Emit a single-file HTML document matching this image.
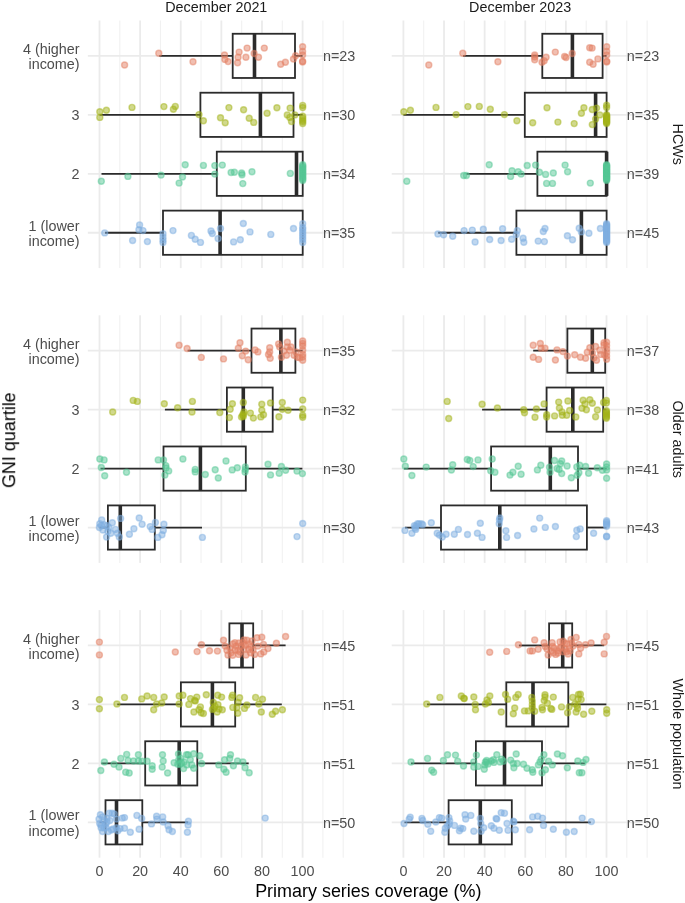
<!DOCTYPE html><html><head><meta charset="utf-8"><style>
html,body{margin:0;padding:0;background:#fff;}
svg{display:block;font-family:"Liberation Sans",sans-serif;}
</style></head><body>
<svg width="685" height="903" viewBox="0 0 685 903">
<rect width="685" height="903" fill="#fff"/>
<g><line x1="119.81" y1="20.50" x2="119.81" y2="268.10" stroke="#F1F1F1" stroke-width="1.1"/><line x1="160.43" y1="20.50" x2="160.43" y2="268.10" stroke="#F1F1F1" stroke-width="1.1"/><line x1="201.05" y1="20.50" x2="201.05" y2="268.10" stroke="#F1F1F1" stroke-width="1.1"/><line x1="241.67" y1="20.50" x2="241.67" y2="268.10" stroke="#F1F1F1" stroke-width="1.1"/><line x1="282.29" y1="20.50" x2="282.29" y2="268.10" stroke="#F1F1F1" stroke-width="1.1"/><line x1="322.91" y1="20.50" x2="322.91" y2="268.10" stroke="#F1F1F1" stroke-width="1.1"/><line x1="343.22" y1="20.50" x2="343.22" y2="268.10" stroke="#F1F1F1" stroke-width="1.1"/><line x1="99.50" y1="20.50" x2="99.50" y2="268.10" stroke="#EBEBEB" stroke-width="1.8"/><line x1="140.12" y1="20.50" x2="140.12" y2="268.10" stroke="#EBEBEB" stroke-width="1.8"/><line x1="180.74" y1="20.50" x2="180.74" y2="268.10" stroke="#EBEBEB" stroke-width="1.8"/><line x1="221.36" y1="20.50" x2="221.36" y2="268.10" stroke="#EBEBEB" stroke-width="1.8"/><line x1="261.98" y1="20.50" x2="261.98" y2="268.10" stroke="#EBEBEB" stroke-width="1.8"/><line x1="302.60" y1="20.50" x2="302.60" y2="268.10" stroke="#EBEBEB" stroke-width="1.8"/><line x1="87.82" y1="55.87" x2="344.74" y2="55.87" stroke="#EBEBEB" stroke-width="1.8"/><line x1="87.82" y1="114.82" x2="344.74" y2="114.82" stroke="#EBEBEB" stroke-width="1.8"/><line x1="87.82" y1="173.78" x2="344.74" y2="173.78" stroke="#EBEBEB" stroke-width="1.8"/><line x1="87.82" y1="232.73" x2="344.74" y2="232.73" stroke="#EBEBEB" stroke-width="1.8"/><line x1="423.71" y1="20.50" x2="423.71" y2="268.10" stroke="#F1F1F1" stroke-width="1.1"/><line x1="464.33" y1="20.50" x2="464.33" y2="268.10" stroke="#F1F1F1" stroke-width="1.1"/><line x1="504.95" y1="20.50" x2="504.95" y2="268.10" stroke="#F1F1F1" stroke-width="1.1"/><line x1="545.57" y1="20.50" x2="545.57" y2="268.10" stroke="#F1F1F1" stroke-width="1.1"/><line x1="586.19" y1="20.50" x2="586.19" y2="268.10" stroke="#F1F1F1" stroke-width="1.1"/><line x1="626.81" y1="20.50" x2="626.81" y2="268.10" stroke="#F1F1F1" stroke-width="1.1"/><line x1="647.12" y1="20.50" x2="647.12" y2="268.10" stroke="#F1F1F1" stroke-width="1.1"/><line x1="403.40" y1="20.50" x2="403.40" y2="268.10" stroke="#EBEBEB" stroke-width="1.8"/><line x1="444.02" y1="20.50" x2="444.02" y2="268.10" stroke="#EBEBEB" stroke-width="1.8"/><line x1="484.64" y1="20.50" x2="484.64" y2="268.10" stroke="#EBEBEB" stroke-width="1.8"/><line x1="525.26" y1="20.50" x2="525.26" y2="268.10" stroke="#EBEBEB" stroke-width="1.8"/><line x1="565.88" y1="20.50" x2="565.88" y2="268.10" stroke="#EBEBEB" stroke-width="1.8"/><line x1="606.50" y1="20.50" x2="606.50" y2="268.10" stroke="#EBEBEB" stroke-width="1.8"/><line x1="391.72" y1="55.87" x2="648.64" y2="55.87" stroke="#EBEBEB" stroke-width="1.8"/><line x1="391.72" y1="114.82" x2="648.64" y2="114.82" stroke="#EBEBEB" stroke-width="1.8"/><line x1="391.72" y1="173.78" x2="648.64" y2="173.78" stroke="#EBEBEB" stroke-width="1.8"/><line x1="391.72" y1="232.73" x2="648.64" y2="232.73" stroke="#EBEBEB" stroke-width="1.8"/><line x1="119.81" y1="315.30" x2="119.81" y2="562.90" stroke="#F1F1F1" stroke-width="1.1"/><line x1="160.43" y1="315.30" x2="160.43" y2="562.90" stroke="#F1F1F1" stroke-width="1.1"/><line x1="201.05" y1="315.30" x2="201.05" y2="562.90" stroke="#F1F1F1" stroke-width="1.1"/><line x1="241.67" y1="315.30" x2="241.67" y2="562.90" stroke="#F1F1F1" stroke-width="1.1"/><line x1="282.29" y1="315.30" x2="282.29" y2="562.90" stroke="#F1F1F1" stroke-width="1.1"/><line x1="322.91" y1="315.30" x2="322.91" y2="562.90" stroke="#F1F1F1" stroke-width="1.1"/><line x1="343.22" y1="315.30" x2="343.22" y2="562.90" stroke="#F1F1F1" stroke-width="1.1"/><line x1="99.50" y1="315.30" x2="99.50" y2="562.90" stroke="#EBEBEB" stroke-width="1.8"/><line x1="140.12" y1="315.30" x2="140.12" y2="562.90" stroke="#EBEBEB" stroke-width="1.8"/><line x1="180.74" y1="315.30" x2="180.74" y2="562.90" stroke="#EBEBEB" stroke-width="1.8"/><line x1="221.36" y1="315.30" x2="221.36" y2="562.90" stroke="#EBEBEB" stroke-width="1.8"/><line x1="261.98" y1="315.30" x2="261.98" y2="562.90" stroke="#EBEBEB" stroke-width="1.8"/><line x1="302.60" y1="315.30" x2="302.60" y2="562.90" stroke="#EBEBEB" stroke-width="1.8"/><line x1="87.82" y1="350.67" x2="344.74" y2="350.67" stroke="#EBEBEB" stroke-width="1.8"/><line x1="87.82" y1="409.62" x2="344.74" y2="409.62" stroke="#EBEBEB" stroke-width="1.8"/><line x1="87.82" y1="468.58" x2="344.74" y2="468.58" stroke="#EBEBEB" stroke-width="1.8"/><line x1="87.82" y1="527.53" x2="344.74" y2="527.53" stroke="#EBEBEB" stroke-width="1.8"/><line x1="423.71" y1="315.30" x2="423.71" y2="562.90" stroke="#F1F1F1" stroke-width="1.1"/><line x1="464.33" y1="315.30" x2="464.33" y2="562.90" stroke="#F1F1F1" stroke-width="1.1"/><line x1="504.95" y1="315.30" x2="504.95" y2="562.90" stroke="#F1F1F1" stroke-width="1.1"/><line x1="545.57" y1="315.30" x2="545.57" y2="562.90" stroke="#F1F1F1" stroke-width="1.1"/><line x1="586.19" y1="315.30" x2="586.19" y2="562.90" stroke="#F1F1F1" stroke-width="1.1"/><line x1="626.81" y1="315.30" x2="626.81" y2="562.90" stroke="#F1F1F1" stroke-width="1.1"/><line x1="647.12" y1="315.30" x2="647.12" y2="562.90" stroke="#F1F1F1" stroke-width="1.1"/><line x1="403.40" y1="315.30" x2="403.40" y2="562.90" stroke="#EBEBEB" stroke-width="1.8"/><line x1="444.02" y1="315.30" x2="444.02" y2="562.90" stroke="#EBEBEB" stroke-width="1.8"/><line x1="484.64" y1="315.30" x2="484.64" y2="562.90" stroke="#EBEBEB" stroke-width="1.8"/><line x1="525.26" y1="315.30" x2="525.26" y2="562.90" stroke="#EBEBEB" stroke-width="1.8"/><line x1="565.88" y1="315.30" x2="565.88" y2="562.90" stroke="#EBEBEB" stroke-width="1.8"/><line x1="606.50" y1="315.30" x2="606.50" y2="562.90" stroke="#EBEBEB" stroke-width="1.8"/><line x1="391.72" y1="350.67" x2="648.64" y2="350.67" stroke="#EBEBEB" stroke-width="1.8"/><line x1="391.72" y1="409.62" x2="648.64" y2="409.62" stroke="#EBEBEB" stroke-width="1.8"/><line x1="391.72" y1="468.58" x2="648.64" y2="468.58" stroke="#EBEBEB" stroke-width="1.8"/><line x1="391.72" y1="527.53" x2="648.64" y2="527.53" stroke="#EBEBEB" stroke-width="1.8"/><line x1="119.81" y1="610.10" x2="119.81" y2="857.70" stroke="#F1F1F1" stroke-width="1.1"/><line x1="160.43" y1="610.10" x2="160.43" y2="857.70" stroke="#F1F1F1" stroke-width="1.1"/><line x1="201.05" y1="610.10" x2="201.05" y2="857.70" stroke="#F1F1F1" stroke-width="1.1"/><line x1="241.67" y1="610.10" x2="241.67" y2="857.70" stroke="#F1F1F1" stroke-width="1.1"/><line x1="282.29" y1="610.10" x2="282.29" y2="857.70" stroke="#F1F1F1" stroke-width="1.1"/><line x1="322.91" y1="610.10" x2="322.91" y2="857.70" stroke="#F1F1F1" stroke-width="1.1"/><line x1="343.22" y1="610.10" x2="343.22" y2="857.70" stroke="#F1F1F1" stroke-width="1.1"/><line x1="99.50" y1="610.10" x2="99.50" y2="857.70" stroke="#EBEBEB" stroke-width="1.8"/><line x1="140.12" y1="610.10" x2="140.12" y2="857.70" stroke="#EBEBEB" stroke-width="1.8"/><line x1="180.74" y1="610.10" x2="180.74" y2="857.70" stroke="#EBEBEB" stroke-width="1.8"/><line x1="221.36" y1="610.10" x2="221.36" y2="857.70" stroke="#EBEBEB" stroke-width="1.8"/><line x1="261.98" y1="610.10" x2="261.98" y2="857.70" stroke="#EBEBEB" stroke-width="1.8"/><line x1="302.60" y1="610.10" x2="302.60" y2="857.70" stroke="#EBEBEB" stroke-width="1.8"/><line x1="87.82" y1="645.47" x2="344.74" y2="645.47" stroke="#EBEBEB" stroke-width="1.8"/><line x1="87.82" y1="704.42" x2="344.74" y2="704.42" stroke="#EBEBEB" stroke-width="1.8"/><line x1="87.82" y1="763.38" x2="344.74" y2="763.38" stroke="#EBEBEB" stroke-width="1.8"/><line x1="87.82" y1="822.33" x2="344.74" y2="822.33" stroke="#EBEBEB" stroke-width="1.8"/><line x1="423.71" y1="610.10" x2="423.71" y2="857.70" stroke="#F1F1F1" stroke-width="1.1"/><line x1="464.33" y1="610.10" x2="464.33" y2="857.70" stroke="#F1F1F1" stroke-width="1.1"/><line x1="504.95" y1="610.10" x2="504.95" y2="857.70" stroke="#F1F1F1" stroke-width="1.1"/><line x1="545.57" y1="610.10" x2="545.57" y2="857.70" stroke="#F1F1F1" stroke-width="1.1"/><line x1="586.19" y1="610.10" x2="586.19" y2="857.70" stroke="#F1F1F1" stroke-width="1.1"/><line x1="626.81" y1="610.10" x2="626.81" y2="857.70" stroke="#F1F1F1" stroke-width="1.1"/><line x1="647.12" y1="610.10" x2="647.12" y2="857.70" stroke="#F1F1F1" stroke-width="1.1"/><line x1="403.40" y1="610.10" x2="403.40" y2="857.70" stroke="#EBEBEB" stroke-width="1.8"/><line x1="444.02" y1="610.10" x2="444.02" y2="857.70" stroke="#EBEBEB" stroke-width="1.8"/><line x1="484.64" y1="610.10" x2="484.64" y2="857.70" stroke="#EBEBEB" stroke-width="1.8"/><line x1="525.26" y1="610.10" x2="525.26" y2="857.70" stroke="#EBEBEB" stroke-width="1.8"/><line x1="565.88" y1="610.10" x2="565.88" y2="857.70" stroke="#EBEBEB" stroke-width="1.8"/><line x1="606.50" y1="610.10" x2="606.50" y2="857.70" stroke="#EBEBEB" stroke-width="1.8"/><line x1="391.72" y1="645.47" x2="648.64" y2="645.47" stroke="#EBEBEB" stroke-width="1.8"/><line x1="391.72" y1="704.42" x2="648.64" y2="704.42" stroke="#EBEBEB" stroke-width="1.8"/><line x1="391.72" y1="763.38" x2="648.64" y2="763.38" stroke="#EBEBEB" stroke-width="1.8"/><line x1="391.72" y1="822.33" x2="648.64" y2="822.33" stroke="#EBEBEB" stroke-width="1.8"/></g>
<line x1="159.20" y1="55.87" x2="232.70" y2="55.87" stroke="#2B2B2B" stroke-width="1.8"/><line x1="295.00" y1="55.87" x2="302.60" y2="55.87" stroke="#2B2B2B" stroke-width="1.8"/><rect x="232.70" y="33.76" width="62.30" height="44.21" fill="#fff" stroke="#2B2B2B" stroke-width="1.8"/><line x1="254.50" y1="33.76" x2="254.50" y2="77.98" stroke="#2B2B2B" stroke-width="3.6"/>
<line x1="99.50" y1="114.82" x2="200.40" y2="114.82" stroke="#2B2B2B" stroke-width="1.8"/><line x1="293.50" y1="114.82" x2="302.70" y2="114.82" stroke="#2B2B2B" stroke-width="1.8"/><rect x="200.40" y="92.72" width="93.10" height="44.21" fill="#fff" stroke="#2B2B2B" stroke-width="1.8"/><line x1="260.40" y1="92.72" x2="260.40" y2="136.93" stroke="#2B2B2B" stroke-width="3.6"/>
<line x1="101.50" y1="173.78" x2="216.80" y2="173.78" stroke="#2B2B2B" stroke-width="1.8"/><rect x="216.80" y="151.67" width="85.90" height="44.21" fill="#fff" stroke="#2B2B2B" stroke-width="1.8"/><line x1="296.50" y1="151.67" x2="296.50" y2="195.88" stroke="#2B2B2B" stroke-width="3.6"/>
<line x1="105.00" y1="232.73" x2="163.00" y2="232.73" stroke="#2B2B2B" stroke-width="1.8"/><rect x="163.00" y="210.62" width="139.70" height="44.21" fill="#fff" stroke="#2B2B2B" stroke-width="1.8"/><line x1="220.10" y1="210.62" x2="220.10" y2="254.84" stroke="#2B2B2B" stroke-width="3.6"/>
<g fill="#E47F63" fill-opacity="0.5" stroke="#E47F63" stroke-opacity="0.5" stroke-width="1.4"><circle cx="124.6" cy="65.0" r="3.0"/><circle cx="158.8" cy="53.2" r="3.0"/><circle cx="193.0" cy="61.8" r="3.0"/><circle cx="224.5" cy="55.0" r="3.0"/><circle cx="224.9" cy="59.4" r="3.0"/><circle cx="228.1" cy="61.6" r="3.0"/><circle cx="239.1" cy="52.1" r="3.0"/><circle cx="238.1" cy="57.2" r="3.0"/><circle cx="237.6" cy="62.7" r="3.0"/><circle cx="247.1" cy="48.1" r="3.0"/><circle cx="245.9" cy="57.2" r="3.0"/><circle cx="254.1" cy="53.5" r="3.0"/><circle cx="258.5" cy="57.2" r="3.0"/><circle cx="264.3" cy="48.1" r="3.0"/><circle cx="280.7" cy="64.2" r="3.0"/><circle cx="285.4" cy="62.3" r="3.0"/><circle cx="293.5" cy="59.0" r="3.0"/><circle cx="295.6" cy="55.7" r="3.0"/><circle cx="302.6" cy="46.7" r="3.0"/><circle cx="302.6" cy="51.4" r="3.0"/><circle cx="302.6" cy="55.0" r="3.0"/><circle cx="302.6" cy="61.3" r="3.0"/><circle cx="302.6" cy="62.0" r="3.0"/></g>
<g fill="#A3B419" fill-opacity="0.5" stroke="#A3B419" stroke-opacity="0.5" stroke-width="1.4"><circle cx="99.8" cy="111.7" r="3.0"/><circle cx="99.8" cy="117.4" r="3.0"/><circle cx="106.4" cy="110.2" r="3.0"/><circle cx="132.0" cy="107.4" r="3.0"/><circle cx="163.9" cy="106.6" r="3.0"/><circle cx="175.3" cy="106.4" r="3.0"/><circle cx="173.4" cy="109.3" r="3.0"/><circle cx="199.0" cy="114.6" r="3.0"/><circle cx="203.4" cy="120.8" r="3.0"/><circle cx="220.5" cy="117.7" r="3.0"/><circle cx="225.2" cy="122.7" r="3.0"/><circle cx="228.9" cy="107.6" r="3.0"/><circle cx="243.6" cy="109.8" r="3.0"/><circle cx="249.2" cy="118.2" r="3.0"/><circle cx="253.7" cy="122.4" r="3.0"/><circle cx="267.1" cy="113.2" r="3.0"/><circle cx="276.9" cy="107.8" r="3.0"/><circle cx="290.1" cy="108.1" r="3.0"/><circle cx="287.3" cy="114.9" r="3.0"/><circle cx="289.8" cy="117.4" r="3.0"/><circle cx="291.5" cy="121.6" r="3.0"/><circle cx="294.8" cy="114.9" r="3.0"/><circle cx="302.7" cy="105.4" r="3.0"/><circle cx="302.7" cy="107.6" r="3.0"/><circle cx="302.7" cy="116.3" r="3.0"/><circle cx="302.7" cy="118.2" r="3.0"/><circle cx="302.7" cy="120.3" r="3.0"/><circle cx="302.7" cy="121.8" r="3.0"/><circle cx="302.7" cy="123.6" r="3.0"/></g>
<g fill="#55C795" fill-opacity="0.5" stroke="#55C795" stroke-opacity="0.5" stroke-width="1.4"><circle cx="101.3" cy="181.2" r="3.0"/><circle cx="127.9" cy="176.4" r="3.0"/><circle cx="161.1" cy="175.1" r="3.0"/><circle cx="185.2" cy="164.7" r="3.0"/><circle cx="182.5" cy="177.0" r="3.0"/><circle cx="179.1" cy="183.1" r="3.0"/><circle cx="203.4" cy="165.4" r="3.0"/><circle cx="214.8" cy="165.6" r="3.0"/><circle cx="214.8" cy="174.1" r="3.0"/><circle cx="222.3" cy="165.1" r="3.0"/><circle cx="231.1" cy="172.5" r="3.0"/><circle cx="234.4" cy="172.2" r="3.0"/><circle cx="241.6" cy="173.0" r="3.0"/><circle cx="242.0" cy="174.7" r="3.0"/><circle cx="242.8" cy="183.6" r="3.0"/><circle cx="252.0" cy="171.8" r="3.0"/><circle cx="290.3" cy="173.4" r="3.0"/><circle cx="302.7" cy="164.7" r="3.0"/><circle cx="302.7" cy="165.9" r="3.0"/><circle cx="302.7" cy="167.1" r="3.0"/><circle cx="302.7" cy="168.3" r="3.0"/><circle cx="302.7" cy="169.6" r="3.0"/><circle cx="302.7" cy="170.8" r="3.0"/><circle cx="302.7" cy="172.0" r="3.0"/><circle cx="302.7" cy="173.2" r="3.0"/><circle cx="302.7" cy="174.4" r="3.0"/><circle cx="302.7" cy="175.6" r="3.0"/><circle cx="302.7" cy="176.9" r="3.0"/><circle cx="302.7" cy="178.1" r="3.0"/><circle cx="302.7" cy="179.3" r="3.0"/><circle cx="302.7" cy="180.5" r="3.0"/></g>
<g fill="#7FB0E2" fill-opacity="0.5" stroke="#7FB0E2" stroke-opacity="0.5" stroke-width="1.4"><circle cx="104.7" cy="232.9" r="3.0"/><circle cx="139.6" cy="224.9" r="3.0"/><circle cx="138.9" cy="229.7" r="3.0"/><circle cx="143.0" cy="230.6" r="3.0"/><circle cx="132.6" cy="240.5" r="3.0"/><circle cx="147.4" cy="241.6" r="3.0"/><circle cx="163.0" cy="233.8" r="3.0"/><circle cx="163.0" cy="237.3" r="3.0"/><circle cx="163.0" cy="240.1" r="3.0"/><circle cx="163.0" cy="242.6" r="3.0"/><circle cx="173.0" cy="230.6" r="3.0"/><circle cx="191.4" cy="235.4" r="3.0"/><circle cx="195.2" cy="239.2" r="3.0"/><circle cx="200.5" cy="242.4" r="3.0"/><circle cx="211.0" cy="231.0" r="3.0"/><circle cx="212.3" cy="233.5" r="3.0"/><circle cx="218.1" cy="238.6" r="3.0"/><circle cx="220.5" cy="228.5" r="3.0"/><circle cx="233.6" cy="241.9" r="3.0"/><circle cx="240.3" cy="239.7" r="3.0"/><circle cx="243.3" cy="223.5" r="3.0"/><circle cx="250.0" cy="231.9" r="3.0"/><circle cx="270.8" cy="234.4" r="3.0"/><circle cx="293.5" cy="228.5" r="3.0"/><circle cx="302.7" cy="223.7" r="3.0"/><circle cx="302.7" cy="227.5" r="3.0"/><circle cx="302.7" cy="229.5" r="3.0"/><circle cx="302.7" cy="232.0" r="3.0"/><circle cx="302.7" cy="234.5" r="3.0"/><circle cx="302.7" cy="237.0" r="3.0"/><circle cx="302.7" cy="239.5" r="3.0"/><circle cx="302.7" cy="242.5" r="3.0"/></g>
<line x1="463.00" y1="55.87" x2="542.30" y2="55.87" stroke="#2B2B2B" stroke-width="1.8"/><line x1="602.60" y1="55.87" x2="606.60" y2="55.87" stroke="#2B2B2B" stroke-width="1.8"/><rect x="542.30" y="33.76" width="60.30" height="44.21" fill="#fff" stroke="#2B2B2B" stroke-width="1.8"/><line x1="572.40" y1="33.76" x2="572.40" y2="77.98" stroke="#2B2B2B" stroke-width="3.6"/>
<line x1="403.40" y1="114.82" x2="524.80" y2="114.82" stroke="#2B2B2B" stroke-width="1.8"/><rect x="524.80" y="92.72" width="81.80" height="44.21" fill="#fff" stroke="#2B2B2B" stroke-width="1.8"/><line x1="595.60" y1="92.72" x2="595.60" y2="136.93" stroke="#2B2B2B" stroke-width="3.6"/>
<line x1="466.40" y1="173.78" x2="537.40" y2="173.78" stroke="#2B2B2B" stroke-width="1.8"/><rect x="537.40" y="151.67" width="69.20" height="44.21" fill="#fff" stroke="#2B2B2B" stroke-width="1.8"/><line x1="606.60" y1="151.67" x2="606.60" y2="195.88" stroke="#2B2B2B" stroke-width="3.6"/>
<line x1="438.20" y1="232.73" x2="516.40" y2="232.73" stroke="#2B2B2B" stroke-width="1.8"/><rect x="516.40" y="210.62" width="90.20" height="44.21" fill="#fff" stroke="#2B2B2B" stroke-width="1.8"/><line x1="581.40" y1="210.62" x2="581.40" y2="254.84" stroke="#2B2B2B" stroke-width="3.6"/>
<g fill="#E47F63" fill-opacity="0.5" stroke="#E47F63" stroke-opacity="0.5" stroke-width="1.4"><circle cx="428.8" cy="65.0" r="3.0"/><circle cx="462.8" cy="53.2" r="3.0"/><circle cx="497.9" cy="61.8" r="3.0"/><circle cx="534.7" cy="55.0" r="3.0"/><circle cx="534.7" cy="59.8" r="3.0"/><circle cx="542.0" cy="62.3" r="3.0"/><circle cx="544.2" cy="60.8" r="3.0"/><circle cx="546.1" cy="57.2" r="3.0"/><circle cx="555.3" cy="52.1" r="3.0"/><circle cx="564.6" cy="56.5" r="3.0"/><circle cx="566.1" cy="57.5" r="3.0"/><circle cx="572.2" cy="53.5" r="3.0"/><circle cx="589.7" cy="47.7" r="3.0"/><circle cx="592.1" cy="48.1" r="3.0"/><circle cx="589.7" cy="62.3" r="3.0"/><circle cx="593.1" cy="64.2" r="3.0"/><circle cx="597.9" cy="58.9" r="3.0"/><circle cx="606.7" cy="46.7" r="3.0"/><circle cx="606.7" cy="51.4" r="3.0"/><circle cx="606.7" cy="55.0" r="3.0"/><circle cx="606.7" cy="61.3" r="3.0"/><circle cx="606.7" cy="62.0" r="3.0"/><circle cx="534.7" cy="57.0" r="3.0"/></g>
<g fill="#A3B419" fill-opacity="0.5" stroke="#A3B419" stroke-opacity="0.5" stroke-width="1.4"><circle cx="403.8" cy="111.7" r="3.0"/><circle cx="410.4" cy="110.2" r="3.0"/><circle cx="436.0" cy="107.4" r="3.0"/><circle cx="456.1" cy="114.6" r="3.0"/><circle cx="467.9" cy="106.6" r="3.0"/><circle cx="479.3" cy="106.4" r="3.0"/><circle cx="490.3" cy="109.3" r="3.0"/><circle cx="504.4" cy="114.6" r="3.0"/><circle cx="516.9" cy="120.8" r="3.0"/><circle cx="532.7" cy="122.7" r="3.0"/><circle cx="547.0" cy="107.8" r="3.0"/><circle cx="557.9" cy="122.1" r="3.0"/><circle cx="574.2" cy="123.6" r="3.0"/><circle cx="583.9" cy="107.8" r="3.0"/><circle cx="581.4" cy="113.2" r="3.0"/><circle cx="592.3" cy="109.5" r="3.0"/><circle cx="596.5" cy="108.1" r="3.0"/><circle cx="595.6" cy="119.1" r="3.0"/><circle cx="592.3" cy="124.6" r="3.0"/><circle cx="599.8" cy="114.9" r="3.0"/><circle cx="606.6" cy="105.2" r="3.0"/><circle cx="606.6" cy="107.5" r="3.0"/><circle cx="606.6" cy="114.8" r="3.0"/><circle cx="606.6" cy="115.7" r="3.0"/><circle cx="606.6" cy="116.5" r="3.0"/><circle cx="606.6" cy="117.4" r="3.0"/><circle cx="606.6" cy="118.3" r="3.0"/><circle cx="606.6" cy="119.2" r="3.0"/><circle cx="606.6" cy="120.0" r="3.0"/><circle cx="606.6" cy="120.9" r="3.0"/><circle cx="606.6" cy="121.8" r="3.0"/><circle cx="606.6" cy="122.6" r="3.0"/><circle cx="606.6" cy="123.5" r="3.0"/></g>
<g fill="#55C795" fill-opacity="0.5" stroke="#55C795" stroke-opacity="0.5" stroke-width="1.4"><circle cx="406.8" cy="181.2" r="3.0"/><circle cx="463.7" cy="175.5" r="3.0"/><circle cx="466.4" cy="175.5" r="3.0"/><circle cx="489.2" cy="164.7" r="3.0"/><circle cx="512.0" cy="170.7" r="3.0"/><circle cx="510.6" cy="176.4" r="3.0"/><circle cx="518.2" cy="171.7" r="3.0"/><circle cx="521.1" cy="174.1" r="3.0"/><circle cx="527.2" cy="165.5" r="3.0"/><circle cx="535.6" cy="165.1" r="3.0"/><circle cx="539.4" cy="172.2" r="3.0"/><circle cx="545.6" cy="174.4" r="3.0"/><circle cx="553.3" cy="173.0" r="3.0"/><circle cx="546.6" cy="183.4" r="3.0"/><circle cx="552.5" cy="183.4" r="3.0"/><circle cx="565.1" cy="165.1" r="3.0"/><circle cx="567.6" cy="171.7" r="3.0"/><circle cx="590.3" cy="183.1" r="3.0"/><circle cx="606.6" cy="164.7" r="3.0"/><circle cx="606.6" cy="165.5" r="3.0"/><circle cx="606.6" cy="166.3" r="3.0"/><circle cx="606.6" cy="167.1" r="3.0"/><circle cx="606.6" cy="167.8" r="3.0"/><circle cx="606.6" cy="168.6" r="3.0"/><circle cx="606.6" cy="169.4" r="3.0"/><circle cx="606.6" cy="170.2" r="3.0"/><circle cx="606.6" cy="171.0" r="3.0"/><circle cx="606.6" cy="171.8" r="3.0"/><circle cx="606.6" cy="172.6" r="3.0"/><circle cx="606.6" cy="173.3" r="3.0"/><circle cx="606.6" cy="174.1" r="3.0"/><circle cx="606.6" cy="174.9" r="3.0"/><circle cx="606.6" cy="175.7" r="3.0"/><circle cx="606.6" cy="176.5" r="3.0"/><circle cx="606.6" cy="177.3" r="3.0"/><circle cx="606.6" cy="178.0" r="3.0"/><circle cx="606.6" cy="178.8" r="3.0"/><circle cx="606.6" cy="179.6" r="3.0"/><circle cx="606.6" cy="180.4" r="3.0"/></g>
<g fill="#7FB0E2" fill-opacity="0.5" stroke="#7FB0E2" stroke-opacity="0.5" stroke-width="1.4"><circle cx="437.9" cy="234.0" r="3.0"/><circle cx="443.6" cy="234.8" r="3.0"/><circle cx="452.7" cy="236.3" r="3.0"/><circle cx="464.1" cy="230.6" r="3.0"/><circle cx="472.3" cy="230.1" r="3.0"/><circle cx="475.1" cy="242.0" r="3.0"/><circle cx="483.3" cy="229.3" r="3.0"/><circle cx="489.7" cy="239.5" r="3.0"/><circle cx="501.1" cy="240.5" r="3.0"/><circle cx="502.6" cy="228.7" r="3.0"/><circle cx="511.6" cy="239.2" r="3.0"/><circle cx="517.3" cy="230.6" r="3.0"/><circle cx="516.3" cy="234.4" r="3.0"/><circle cx="523.1" cy="238.2" r="3.0"/><circle cx="523.8" cy="242.3" r="3.0"/><circle cx="538.2" cy="241.1" r="3.0"/><circle cx="544.4" cy="241.6" r="3.0"/><circle cx="543.3" cy="231.5" r="3.0"/><circle cx="545.0" cy="228.5" r="3.0"/><circle cx="567.4" cy="235.7" r="3.0"/><circle cx="572.5" cy="239.7" r="3.0"/><circle cx="579.2" cy="228.2" r="3.0"/><circle cx="581.4" cy="231.9" r="3.0"/><circle cx="588.9" cy="233.2" r="3.0"/><circle cx="600.4" cy="228.5" r="3.0"/><circle cx="606.6" cy="223.8" r="3.0"/><circle cx="606.6" cy="224.8" r="3.0"/><circle cx="606.6" cy="225.8" r="3.0"/><circle cx="606.6" cy="226.7" r="3.0"/><circle cx="606.6" cy="227.7" r="3.0"/><circle cx="606.6" cy="228.7" r="3.0"/><circle cx="606.6" cy="229.7" r="3.0"/><circle cx="606.6" cy="230.7" r="3.0"/><circle cx="606.6" cy="231.6" r="3.0"/><circle cx="606.6" cy="232.6" r="3.0"/><circle cx="606.6" cy="233.6" r="3.0"/><circle cx="606.6" cy="234.6" r="3.0"/><circle cx="606.6" cy="235.5" r="3.0"/><circle cx="606.6" cy="236.5" r="3.0"/><circle cx="606.6" cy="237.5" r="3.0"/><circle cx="606.6" cy="238.5" r="3.0"/><circle cx="606.6" cy="239.5" r="3.0"/><circle cx="606.6" cy="240.4" r="3.0"/><circle cx="606.6" cy="241.4" r="3.0"/><circle cx="606.6" cy="242.4" r="3.0"/></g>
<line x1="187.60" y1="350.67" x2="251.50" y2="350.67" stroke="#2B2B2B" stroke-width="1.8"/><line x1="295.40" y1="350.67" x2="302.70" y2="350.67" stroke="#2B2B2B" stroke-width="1.8"/><rect x="251.50" y="328.56" width="43.90" height="44.21" fill="#fff" stroke="#2B2B2B" stroke-width="1.8"/><line x1="280.90" y1="328.56" x2="280.90" y2="372.78" stroke="#2B2B2B" stroke-width="3.6"/>
<line x1="164.90" y1="409.62" x2="226.90" y2="409.62" stroke="#2B2B2B" stroke-width="1.8"/><line x1="272.70" y1="409.62" x2="302.70" y2="409.62" stroke="#2B2B2B" stroke-width="1.8"/><rect x="226.90" y="387.52" width="45.80" height="44.21" fill="#fff" stroke="#2B2B2B" stroke-width="1.8"/><line x1="243.30" y1="387.52" x2="243.30" y2="431.73" stroke="#2B2B2B" stroke-width="3.6"/>
<line x1="100.50" y1="468.58" x2="163.50" y2="468.58" stroke="#2B2B2B" stroke-width="1.8"/><line x1="245.80" y1="468.58" x2="302.40" y2="468.58" stroke="#2B2B2B" stroke-width="1.8"/><rect x="163.50" y="446.47" width="82.30" height="44.21" fill="#fff" stroke="#2B2B2B" stroke-width="1.8"/><line x1="200.40" y1="446.47" x2="200.40" y2="490.68" stroke="#2B2B2B" stroke-width="3.6"/>
<line x1="99.50" y1="527.53" x2="107.90" y2="527.53" stroke="#2B2B2B" stroke-width="1.8"/><line x1="154.80" y1="527.53" x2="202.00" y2="527.53" stroke="#2B2B2B" stroke-width="1.8"/><rect x="107.90" y="505.42" width="46.90" height="44.21" fill="#fff" stroke="#2B2B2B" stroke-width="1.8"/><line x1="120.30" y1="505.42" x2="120.30" y2="549.64" stroke="#2B2B2B" stroke-width="3.6"/>
<g fill="#E47F63" fill-opacity="0.5" stroke="#E47F63" stroke-opacity="0.5" stroke-width="1.4"><circle cx="179.1" cy="345.2" r="3.0"/><circle cx="187.1" cy="348.5" r="3.0"/><circle cx="201.3" cy="357.4" r="3.0"/><circle cx="223.5" cy="358.9" r="3.0"/><circle cx="240.0" cy="342.7" r="3.0"/><circle cx="238.3" cy="348.2" r="3.0"/><circle cx="245.7" cy="351.1" r="3.0"/><circle cx="242.3" cy="355.8" r="3.0"/><circle cx="248.2" cy="359.8" r="3.0"/><circle cx="255.1" cy="349.9" r="3.0"/><circle cx="257.9" cy="351.9" r="3.0"/><circle cx="269.7" cy="347.7" r="3.0"/><circle cx="269.7" cy="351.9" r="3.0"/><circle cx="268.5" cy="354.4" r="3.0"/><circle cx="270.2" cy="358.3" r="3.0"/><circle cx="278.6" cy="344.0" r="3.0"/><circle cx="279.7" cy="346.9" r="3.0"/><circle cx="287.3" cy="342.3" r="3.0"/><circle cx="287.3" cy="346.9" r="3.0"/><circle cx="283.9" cy="351.1" r="3.0"/><circle cx="289.8" cy="350.2" r="3.0"/><circle cx="281.4" cy="357.3" r="3.0"/><circle cx="286.5" cy="355.3" r="3.0"/><circle cx="294.0" cy="355.3" r="3.0"/><circle cx="297.4" cy="357.3" r="3.0"/><circle cx="302.7" cy="341.0" r="3.0"/><circle cx="302.7" cy="346.0" r="3.0"/><circle cx="302.7" cy="350.2" r="3.0"/><circle cx="302.7" cy="354.4" r="3.0"/><circle cx="302.7" cy="360.3" r="3.0"/><circle cx="299.9" cy="357.8" r="3.0"/><circle cx="302.7" cy="343.5" r="3.0"/><circle cx="302.7" cy="357.0" r="3.0"/><circle cx="291.0" cy="347.0" r="3.0"/><circle cx="296.0" cy="352.0" r="3.0"/></g>
<g fill="#A3B419" fill-opacity="0.5" stroke="#A3B419" stroke-opacity="0.5" stroke-width="1.4"><circle cx="112.7" cy="412.0" r="3.0"/><circle cx="133.2" cy="400.4" r="3.0"/><circle cx="137.3" cy="401.4" r="3.0"/><circle cx="164.3" cy="403.8" r="3.0"/><circle cx="177.6" cy="407.8" r="3.0"/><circle cx="192.4" cy="401.4" r="3.0"/><circle cx="192.0" cy="412.0" r="3.0"/><circle cx="219.8" cy="412.6" r="3.0"/><circle cx="232.4" cy="403.8" r="3.0"/><circle cx="230.2" cy="409.2" r="3.0"/><circle cx="229.4" cy="417.6" r="3.0"/><circle cx="243.3" cy="402.5" r="3.0"/><circle cx="242.8" cy="415.2" r="3.0"/><circle cx="243.3" cy="416.4" r="3.0"/><circle cx="250.4" cy="413.1" r="3.0"/><circle cx="253.4" cy="418.1" r="3.0"/><circle cx="261.8" cy="404.2" r="3.0"/><circle cx="261.8" cy="410.2" r="3.0"/><circle cx="260.8" cy="416.9" r="3.0"/><circle cx="263.5" cy="414.7" r="3.0"/><circle cx="270.5" cy="403.0" r="3.0"/><circle cx="282.3" cy="402.5" r="3.0"/><circle cx="282.3" cy="409.2" r="3.0"/><circle cx="288.1" cy="410.2" r="3.0"/><circle cx="278.9" cy="416.7" r="3.0"/><circle cx="302.7" cy="400.1" r="3.0"/><circle cx="302.7" cy="408.9" r="3.0"/><circle cx="302.7" cy="415.2" r="3.0"/><circle cx="302.7" cy="417.3" r="3.0"/><circle cx="243.3" cy="414.0" r="3.0"/><circle cx="241.5" cy="417.0" r="3.0"/><circle cx="244.0" cy="412.0" r="3.0"/></g>
<g fill="#55C795" fill-opacity="0.5" stroke="#55C795" stroke-opacity="0.5" stroke-width="1.4"><circle cx="99.8" cy="459.0" r="3.0"/><circle cx="104.1" cy="459.9" r="3.0"/><circle cx="101.3" cy="467.5" r="3.0"/><circle cx="104.7" cy="475.7" r="3.0"/><circle cx="126.5" cy="472.3" r="3.0"/><circle cx="158.2" cy="459.9" r="3.0"/><circle cx="163.5" cy="459.9" r="3.0"/><circle cx="165.8" cy="465.6" r="3.0"/><circle cx="168.7" cy="470.9" r="3.0"/><circle cx="164.9" cy="475.1" r="3.0"/><circle cx="182.9" cy="459.0" r="3.0"/><circle cx="195.2" cy="469.4" r="3.0"/><circle cx="195.2" cy="471.9" r="3.0"/><circle cx="205.3" cy="474.5" r="3.0"/><circle cx="215.2" cy="469.8" r="3.0"/><circle cx="218.3" cy="478.0" r="3.0"/><circle cx="226.0" cy="461.0" r="3.0"/><circle cx="232.2" cy="469.9" r="3.0"/><circle cx="237.3" cy="467.7" r="3.0"/><circle cx="245.3" cy="466.9" r="3.0"/><circle cx="245.3" cy="469.4" r="3.0"/><circle cx="268.0" cy="464.3" r="3.0"/><circle cx="270.5" cy="474.9" r="3.0"/><circle cx="281.4" cy="466.5" r="3.0"/><circle cx="279.2" cy="473.2" r="3.0"/><circle cx="285.6" cy="470.2" r="3.0"/><circle cx="297.0" cy="471.1" r="3.0"/><circle cx="302.4" cy="473.6" r="3.0"/><circle cx="166.0" cy="468.0" r="3.0"/><circle cx="245.0" cy="472.0" r="3.0"/></g>
<g fill="#7FB0E2" fill-opacity="0.5" stroke="#7FB0E2" stroke-opacity="0.5" stroke-width="1.4"><circle cx="101.7" cy="519.9" r="3.0"/><circle cx="99.8" cy="523.7" r="3.0"/><circle cx="99.4" cy="527.5" r="3.0"/><circle cx="101.3" cy="525.6" r="3.0"/><circle cx="104.1" cy="524.7" r="3.0"/><circle cx="107.0" cy="525.6" r="3.0"/><circle cx="108.9" cy="527.5" r="3.0"/><circle cx="112.3" cy="522.8" r="3.0"/><circle cx="107.9" cy="531.3" r="3.0"/><circle cx="110.8" cy="533.2" r="3.0"/><circle cx="106.6" cy="537.0" r="3.0"/><circle cx="115.5" cy="529.4" r="3.0"/><circle cx="117.4" cy="533.2" r="3.0"/><circle cx="119.3" cy="537.0" r="3.0"/><circle cx="120.6" cy="518.4" r="3.0"/><circle cx="129.4" cy="534.2" r="3.0"/><circle cx="133.9" cy="528.8" r="3.0"/><circle cx="139.2" cy="518.0" r="3.0"/><circle cx="142.1" cy="524.3" r="3.0"/><circle cx="150.2" cy="526.6" r="3.0"/><circle cx="152.1" cy="529.4" r="3.0"/><circle cx="155.4" cy="522.4" r="3.0"/><circle cx="163.9" cy="524.3" r="3.0"/><circle cx="163.3" cy="530.4" r="3.0"/><circle cx="162.0" cy="534.7" r="3.0"/><circle cx="157.8" cy="537.4" r="3.0"/><circle cx="202.4" cy="537.4" r="3.0"/><circle cx="302.7" cy="523.5" r="3.0"/><circle cx="297.0" cy="536.6" r="3.0"/><circle cx="103.0" cy="530.0" r="3.0"/></g>
<line x1="533.20" y1="350.67" x2="567.40" y2="350.67" stroke="#2B2B2B" stroke-width="1.8"/><line x1="605.20" y1="350.67" x2="606.60" y2="350.67" stroke="#2B2B2B" stroke-width="1.8"/><rect x="567.40" y="328.56" width="37.80" height="44.21" fill="#fff" stroke="#2B2B2B" stroke-width="1.8"/><line x1="592.30" y1="328.56" x2="592.30" y2="372.78" stroke="#2B2B2B" stroke-width="3.6"/>
<line x1="482.10" y1="409.62" x2="546.60" y2="409.62" stroke="#2B2B2B" stroke-width="1.8"/><line x1="603.20" y1="409.62" x2="606.40" y2="409.62" stroke="#2B2B2B" stroke-width="1.8"/><rect x="546.60" y="387.52" width="56.60" height="44.21" fill="#fff" stroke="#2B2B2B" stroke-width="1.8"/><line x1="572.80" y1="387.52" x2="572.80" y2="431.73" stroke="#2B2B2B" stroke-width="3.6"/>
<line x1="404.00" y1="468.58" x2="491.10" y2="468.58" stroke="#2B2B2B" stroke-width="1.8"/><line x1="578.00" y1="468.58" x2="606.60" y2="468.58" stroke="#2B2B2B" stroke-width="1.8"/><rect x="491.10" y="446.47" width="86.90" height="44.21" fill="#fff" stroke="#2B2B2B" stroke-width="1.8"/><line x1="550.30" y1="446.47" x2="550.30" y2="490.68" stroke="#2B2B2B" stroke-width="3.6"/>
<line x1="405.00" y1="527.53" x2="441.00" y2="527.53" stroke="#2B2B2B" stroke-width="1.8"/><line x1="586.90" y1="527.53" x2="606.60" y2="527.53" stroke="#2B2B2B" stroke-width="1.8"/><rect x="441.00" y="505.42" width="145.90" height="44.21" fill="#fff" stroke="#2B2B2B" stroke-width="1.8"/><line x1="499.80" y1="505.42" x2="499.80" y2="549.64" stroke="#2B2B2B" stroke-width="3.6"/>
<g fill="#E47F63" fill-opacity="0.5" stroke="#E47F63" stroke-opacity="0.5" stroke-width="1.4"><circle cx="533.2" cy="345.2" r="3.0"/><circle cx="533.2" cy="357.3" r="3.0"/><circle cx="540.3" cy="343.5" r="3.0"/><circle cx="541.1" cy="348.2" r="3.0"/><circle cx="545.0" cy="348.2" r="3.0"/><circle cx="538.6" cy="359.4" r="3.0"/><circle cx="557.0" cy="349.9" r="3.0"/><circle cx="562.9" cy="351.6" r="3.0"/><circle cx="555.4" cy="360.0" r="3.0"/><circle cx="567.4" cy="356.1" r="3.0"/><circle cx="574.7" cy="354.7" r="3.0"/><circle cx="580.5" cy="357.3" r="3.0"/><circle cx="585.6" cy="358.3" r="3.0"/><circle cx="587.3" cy="352.2" r="3.0"/><circle cx="589.8" cy="347.7" r="3.0"/><circle cx="595.6" cy="346.5" r="3.0"/><circle cx="594.0" cy="357.8" r="3.0"/><circle cx="596.5" cy="360.3" r="3.0"/><circle cx="592.3" cy="352.7" r="3.0"/><circle cx="599.8" cy="350.2" r="3.0"/><circle cx="600.7" cy="354.4" r="3.0"/><circle cx="604.0" cy="342.7" r="3.0"/><circle cx="606.6" cy="342.2" r="3.0"/><circle cx="606.6" cy="345.6" r="3.0"/><circle cx="606.6" cy="349.0" r="3.0"/><circle cx="606.6" cy="352.5" r="3.0"/><circle cx="606.6" cy="355.9" r="3.0"/><circle cx="606.6" cy="359.3" r="3.0"/><circle cx="604.0" cy="345.0" r="3.0"/><circle cx="604.5" cy="355.0" r="3.0"/></g>
<g fill="#A3B419" fill-opacity="0.5" stroke="#A3B419" stroke-opacity="0.5" stroke-width="1.4"><circle cx="447.2" cy="401.4" r="3.0"/><circle cx="448.7" cy="418.5" r="3.0"/><circle cx="482.1" cy="404.2" r="3.0"/><circle cx="497.4" cy="408.0" r="3.0"/><circle cx="523.7" cy="409.7" r="3.0"/><circle cx="524.5" cy="412.7" r="3.0"/><circle cx="536.4" cy="409.0" r="3.0"/><circle cx="535.0" cy="417.3" r="3.0"/><circle cx="544.1" cy="403.9" r="3.0"/><circle cx="546.7" cy="414.8" r="3.0"/><circle cx="546.6" cy="417.0" r="3.0"/><circle cx="554.6" cy="415.9" r="3.0"/><circle cx="558.7" cy="402.1" r="3.0"/><circle cx="559.4" cy="408.0" r="3.0"/><circle cx="562.0" cy="411.9" r="3.0"/><circle cx="562.3" cy="415.3" r="3.0"/><circle cx="567.9" cy="401.0" r="3.0"/><circle cx="569.6" cy="410.5" r="3.0"/><circle cx="566.7" cy="415.3" r="3.0"/><circle cx="575.8" cy="417.0" r="3.0"/><circle cx="583.1" cy="400.2" r="3.0"/><circle cx="585.0" cy="403.9" r="3.0"/><circle cx="582.0" cy="408.3" r="3.0"/><circle cx="586.4" cy="409.7" r="3.0"/><circle cx="589.8" cy="399.8" r="3.0"/><circle cx="592.3" cy="403.2" r="3.0"/><circle cx="597.4" cy="410.0" r="3.0"/><circle cx="595.6" cy="416.7" r="3.0"/><circle cx="606.4" cy="400.5" r="3.0"/><circle cx="603.6" cy="402.5" r="3.0"/><circle cx="606.4" cy="403.0" r="3.0"/><circle cx="606.4" cy="410.8" r="3.0"/><circle cx="606.4" cy="412.1" r="3.0"/><circle cx="606.4" cy="413.3" r="3.0"/><circle cx="606.4" cy="414.6" r="3.0"/><circle cx="606.4" cy="415.8" r="3.0"/><circle cx="606.4" cy="417.1" r="3.0"/><circle cx="606.4" cy="418.3" r="3.0"/></g>
<g fill="#55C795" fill-opacity="0.5" stroke="#55C795" stroke-opacity="0.5" stroke-width="1.4"><circle cx="403.8" cy="459.0" r="3.0"/><circle cx="405.3" cy="466.2" r="3.0"/><circle cx="411.9" cy="475.5" r="3.0"/><circle cx="426.2" cy="467.1" r="3.0"/><circle cx="452.7" cy="464.7" r="3.0"/><circle cx="451.4" cy="470.0" r="3.0"/><circle cx="467.3" cy="459.5" r="3.0"/><circle cx="469.8" cy="460.5" r="3.0"/><circle cx="478.0" cy="459.9" r="3.0"/><circle cx="473.2" cy="466.6" r="3.0"/><circle cx="492.2" cy="459.0" r="3.0"/><circle cx="490.7" cy="470.7" r="3.0"/><circle cx="494.9" cy="472.3" r="3.0"/><circle cx="510.0" cy="475.1" r="3.0"/><circle cx="512.9" cy="472.3" r="3.0"/><circle cx="518.2" cy="466.2" r="3.0"/><circle cx="521.1" cy="474.2" r="3.0"/><circle cx="537.4" cy="469.9" r="3.0"/><circle cx="540.8" cy="465.2" r="3.0"/><circle cx="549.5" cy="467.2" r="3.0"/><circle cx="550.0" cy="472.2" r="3.0"/><circle cx="554.5" cy="460.5" r="3.0"/><circle cx="561.7" cy="461.0" r="3.0"/><circle cx="560.4" cy="463.8" r="3.0"/><circle cx="557.0" cy="468.5" r="3.0"/><circle cx="559.1" cy="469.4" r="3.0"/><circle cx="561.7" cy="473.6" r="3.0"/><circle cx="567.1" cy="466.0" r="3.0"/><circle cx="571.3" cy="477.8" r="3.0"/><circle cx="576.8" cy="466.9" r="3.0"/><circle cx="579.7" cy="465.2" r="3.0"/><circle cx="578.9" cy="472.7" r="3.0"/><circle cx="577.2" cy="475.3" r="3.0"/><circle cx="585.6" cy="466.5" r="3.0"/><circle cx="588.6" cy="473.2" r="3.0"/><circle cx="597.3" cy="467.7" r="3.0"/><circle cx="602.4" cy="470.2" r="3.0"/><circle cx="606.6" cy="464.0" r="3.0"/><circle cx="606.6" cy="469.9" r="3.0"/><circle cx="606.6" cy="478.3" r="3.0"/><circle cx="606.6" cy="467.0" r="3.0"/></g>
<g fill="#7FB0E2" fill-opacity="0.5" stroke="#7FB0E2" stroke-opacity="0.5" stroke-width="1.4"><circle cx="404.9" cy="530.4" r="3.0"/><circle cx="411.9" cy="533.2" r="3.0"/><circle cx="414.4" cy="525.6" r="3.0"/><circle cx="415.7" cy="529.4" r="3.0"/><circle cx="417.6" cy="523.7" r="3.0"/><circle cx="421.4" cy="523.7" r="3.0"/><circle cx="422.7" cy="524.7" r="3.0"/><circle cx="431.3" cy="522.8" r="3.0"/><circle cx="437.2" cy="533.2" r="3.0"/><circle cx="439.4" cy="535.1" r="3.0"/><circle cx="442.3" cy="537.0" r="3.0"/><circle cx="446.1" cy="534.2" r="3.0"/><circle cx="454.3" cy="534.2" r="3.0"/><circle cx="458.4" cy="529.4" r="3.0"/><circle cx="467.5" cy="534.5" r="3.0"/><circle cx="477.4" cy="533.2" r="3.0"/><circle cx="480.3" cy="523.2" r="3.0"/><circle cx="482.1" cy="537.4" r="3.0"/><circle cx="499.8" cy="518.0" r="3.0"/><circle cx="499.2" cy="523.7" r="3.0"/><circle cx="505.9" cy="530.7" r="3.0"/><circle cx="506.6" cy="537.4" r="3.0"/><circle cx="517.6" cy="535.5" r="3.0"/><circle cx="533.9" cy="529.0" r="3.0"/><circle cx="539.7" cy="518.1" r="3.0"/><circle cx="545.3" cy="527.4" r="3.0"/><circle cx="555.4" cy="526.5" r="3.0"/><circle cx="576.8" cy="530.2" r="3.0"/><circle cx="580.2" cy="528.9" r="3.0"/><circle cx="576.3" cy="536.6" r="3.0"/><circle cx="593.6" cy="533.2" r="3.0"/><circle cx="416.0" cy="526.0" r="3.0"/><circle cx="419.0" cy="524.0" r="3.0"/><circle cx="499.5" cy="520.0" r="3.0"/><circle cx="415.0" cy="528.0" r="3.0"/><circle cx="606.6" cy="520.7" r="3.0"/><circle cx="606.6" cy="522.1" r="3.0"/><circle cx="606.6" cy="523.5" r="3.0"/><circle cx="606.6" cy="524.8" r="3.0"/><circle cx="606.6" cy="526.2" r="3.0"/><circle cx="606.6" cy="536.3" r="3.0"/><circle cx="606.6" cy="536.7" r="3.0"/></g>
<line x1="197.70" y1="645.47" x2="229.40" y2="645.47" stroke="#2B2B2B" stroke-width="1.8"/><line x1="253.20" y1="645.47" x2="285.60" y2="645.47" stroke="#2B2B2B" stroke-width="1.8"/><rect x="229.40" y="623.36" width="23.80" height="44.21" fill="#fff" stroke="#2B2B2B" stroke-width="1.8"/><line x1="242.00" y1="623.36" x2="242.00" y2="667.58" stroke="#2B2B2B" stroke-width="3.6"/>
<line x1="117.20" y1="704.42" x2="180.90" y2="704.42" stroke="#2B2B2B" stroke-width="1.8"/><line x1="235.20" y1="704.42" x2="281.80" y2="704.42" stroke="#2B2B2B" stroke-width="1.8"/><rect x="180.90" y="682.32" width="54.30" height="44.21" fill="#fff" stroke="#2B2B2B" stroke-width="1.8"/><line x1="212.40" y1="682.32" x2="212.40" y2="726.53" stroke="#2B2B2B" stroke-width="3.6"/>
<line x1="101.40" y1="763.38" x2="145.20" y2="763.38" stroke="#2B2B2B" stroke-width="1.8"/><line x1="197.30" y1="763.38" x2="248.70" y2="763.38" stroke="#2B2B2B" stroke-width="1.8"/><rect x="145.20" y="741.27" width="52.10" height="44.21" fill="#fff" stroke="#2B2B2B" stroke-width="1.8"/><line x1="179.20" y1="741.27" x2="179.20" y2="785.48" stroke="#2B2B2B" stroke-width="3.6"/>
<line x1="99.50" y1="822.33" x2="105.50" y2="822.33" stroke="#2B2B2B" stroke-width="1.8"/><line x1="142.30" y1="822.33" x2="188.10" y2="822.33" stroke="#2B2B2B" stroke-width="1.8"/><rect x="105.50" y="800.22" width="36.80" height="44.21" fill="#fff" stroke="#2B2B2B" stroke-width="1.8"/><line x1="116.50" y1="800.22" x2="116.50" y2="844.44" stroke="#2B2B2B" stroke-width="3.6"/>
<g fill="#E47F63" fill-opacity="0.5" stroke="#E47F63" stroke-opacity="0.5" stroke-width="1.4"><circle cx="99.4" cy="642.1" r="3.0"/><circle cx="99.4" cy="654.9" r="3.0"/><circle cx="175.3" cy="652.0" r="3.0"/><circle cx="197.1" cy="651.6" r="3.0"/><circle cx="201.5" cy="644.8" r="3.0"/><circle cx="209.5" cy="650.7" r="3.0"/><circle cx="217.4" cy="651.1" r="3.0"/><circle cx="223.5" cy="640.2" r="3.0"/><circle cx="225.2" cy="646.1" r="3.0"/><circle cx="226.9" cy="650.3" r="3.0"/><circle cx="231.1" cy="652.8" r="3.0"/><circle cx="232.7" cy="655.3" r="3.0"/><circle cx="234.9" cy="642.7" r="3.0"/><circle cx="236.1" cy="646.1" r="3.0"/><circle cx="237.8" cy="650.3" r="3.0"/><circle cx="238.6" cy="654.4" r="3.0"/><circle cx="241.1" cy="646.1" r="3.0"/><circle cx="242.8" cy="642.7" r="3.0"/><circle cx="245.3" cy="645.2" r="3.0"/><circle cx="247.0" cy="640.2" r="3.0"/><circle cx="248.7" cy="649.4" r="3.0"/><circle cx="250.4" cy="652.8" r="3.0"/><circle cx="252.0" cy="641.0" r="3.0"/><circle cx="254.6" cy="654.4" r="3.0"/><circle cx="257.1" cy="637.7" r="3.0"/><circle cx="261.8" cy="637.2" r="3.0"/><circle cx="257.9" cy="646.1" r="3.0"/><circle cx="263.5" cy="644.4" r="3.0"/><circle cx="268.0" cy="648.6" r="3.0"/><circle cx="263.8" cy="651.9" r="3.0"/><circle cx="260.8" cy="653.9" r="3.0"/><circle cx="276.4" cy="643.2" r="3.0"/><circle cx="285.6" cy="636.5" r="3.0"/><circle cx="230.0" cy="648.0" r="3.0"/><circle cx="233.0" cy="644.0" r="3.0"/><circle cx="235.0" cy="650.0" r="3.0"/><circle cx="239.0" cy="643.0" r="3.0"/><circle cx="240.0" cy="652.0" r="3.0"/><circle cx="244.0" cy="649.0" r="3.0"/><circle cx="246.0" cy="655.0" r="3.0"/><circle cx="249.0" cy="644.0" r="3.0"/><circle cx="251.0" cy="647.0" r="3.0"/><circle cx="253.0" cy="650.0" r="3.0"/><circle cx="228.0" cy="655.0" r="3.0"/><circle cx="244.0" cy="640.0" r="3.0"/></g>
<g fill="#A3B419" fill-opacity="0.5" stroke="#A3B419" stroke-opacity="0.5" stroke-width="1.4"><circle cx="99.4" cy="699.6" r="3.0"/><circle cx="99.4" cy="708.8" r="3.0"/><circle cx="116.9" cy="704.0" r="3.0"/><circle cx="124.5" cy="697.4" r="3.0"/><circle cx="141.7" cy="698.9" r="3.0"/><circle cx="147.1" cy="696.0" r="3.0"/><circle cx="153.7" cy="697.4" r="3.0"/><circle cx="156.6" cy="704.0" r="3.0"/><circle cx="161.7" cy="703.0" r="3.0"/><circle cx="153.7" cy="709.8" r="3.0"/><circle cx="164.2" cy="697.0" r="3.0"/><circle cx="179.2" cy="696.0" r="3.0"/><circle cx="182.9" cy="695.2" r="3.0"/><circle cx="179.2" cy="704.0" r="3.0"/><circle cx="188.8" cy="704.4" r="3.0"/><circle cx="190.5" cy="698.6" r="3.0"/><circle cx="194.6" cy="700.4" r="3.0"/><circle cx="196.8" cy="697.1" r="3.0"/><circle cx="195.3" cy="701.1" r="3.0"/><circle cx="200.4" cy="706.9" r="3.0"/><circle cx="199.0" cy="709.8" r="3.0"/><circle cx="193.9" cy="712.0" r="3.0"/><circle cx="201.2" cy="712.8" r="3.0"/><circle cx="203.4" cy="713.5" r="3.0"/><circle cx="206.3" cy="694.8" r="3.0"/><circle cx="213.3" cy="702.5" r="3.0"/><circle cx="215.0" cy="706.2" r="3.0"/><circle cx="213.9" cy="708.4" r="3.0"/><circle cx="212.4" cy="709.4" r="3.0"/><circle cx="218.0" cy="704.7" r="3.0"/><circle cx="219.1" cy="709.1" r="3.0"/><circle cx="222.3" cy="709.8" r="3.0"/><circle cx="217.7" cy="695.2" r="3.0"/><circle cx="221.6" cy="697.1" r="3.0"/><circle cx="217.2" cy="712.0" r="3.0"/><circle cx="232.6" cy="695.2" r="3.0"/><circle cx="231.8" cy="697.4" r="3.0"/><circle cx="239.6" cy="697.7" r="3.0"/><circle cx="238.1" cy="702.5" r="3.0"/><circle cx="232.8" cy="707.4" r="3.0"/><circle cx="236.9" cy="707.7" r="3.0"/><circle cx="237.7" cy="713.2" r="3.0"/><circle cx="244.5" cy="708.4" r="3.0"/><circle cx="246.9" cy="705.0" r="3.0"/><circle cx="255.6" cy="697.4" r="3.0"/><circle cx="262.5" cy="699.2" r="3.0"/><circle cx="258.8" cy="704.0" r="3.0"/><circle cx="261.3" cy="712.0" r="3.0"/><circle cx="272.3" cy="714.2" r="3.0"/><circle cx="275.6" cy="711.3" r="3.0"/><circle cx="282.4" cy="709.8" r="3.0"/></g>
<g fill="#55C795" fill-opacity="0.5" stroke="#55C795" stroke-opacity="0.5" stroke-width="1.4"><circle cx="100.8" cy="770.5" r="3.0"/><circle cx="104.4" cy="762.0" r="3.0"/><circle cx="114.0" cy="764.2" r="3.0"/><circle cx="119.0" cy="767.1" r="3.0"/><circle cx="120.8" cy="758.4" r="3.0"/><circle cx="126.7" cy="754.4" r="3.0"/><circle cx="128.1" cy="760.5" r="3.0"/><circle cx="125.7" cy="772.2" r="3.0"/><circle cx="129.2" cy="773.0" r="3.0"/><circle cx="133.5" cy="761.0" r="3.0"/><circle cx="138.4" cy="754.7" r="3.0"/><circle cx="138.4" cy="761.0" r="3.0"/><circle cx="142.0" cy="761.3" r="3.0"/><circle cx="147.1" cy="761.3" r="3.0"/><circle cx="152.2" cy="765.7" r="3.0"/><circle cx="152.2" cy="769.3" r="3.0"/><circle cx="162.5" cy="754.7" r="3.0"/><circle cx="163.2" cy="761.0" r="3.0"/><circle cx="162.2" cy="767.1" r="3.0"/><circle cx="167.6" cy="773.0" r="3.0"/><circle cx="174.1" cy="762.7" r="3.0"/><circle cx="178.5" cy="754.0" r="3.0"/><circle cx="178.8" cy="759.8" r="3.0"/><circle cx="177.8" cy="764.2" r="3.0"/><circle cx="181.4" cy="762.7" r="3.0"/><circle cx="183.6" cy="768.6" r="3.0"/><circle cx="186.5" cy="754.7" r="3.0"/><circle cx="180.8" cy="758.4" r="3.0"/><circle cx="180.1" cy="764.2" r="3.0"/><circle cx="188.1" cy="754.7" r="3.0"/><circle cx="193.7" cy="753.7" r="3.0"/><circle cx="190.3" cy="759.8" r="3.0"/><circle cx="186.7" cy="764.9" r="3.0"/><circle cx="191.8" cy="764.9" r="3.0"/><circle cx="193.7" cy="768.3" r="3.0"/><circle cx="199.8" cy="755.7" r="3.0"/><circle cx="201.6" cy="763.5" r="3.0"/><circle cx="218.8" cy="764.9" r="3.0"/><circle cx="224.6" cy="759.8" r="3.0"/><circle cx="230.5" cy="754.7" r="3.0"/><circle cx="229.7" cy="758.4" r="3.0"/><circle cx="223.9" cy="769.3" r="3.0"/><circle cx="226.1" cy="772.2" r="3.0"/><circle cx="233.4" cy="765.7" r="3.0"/><circle cx="237.5" cy="761.0" r="3.0"/><circle cx="242.9" cy="762.0" r="3.0"/><circle cx="245.1" cy="767.8" r="3.0"/><circle cx="249.2" cy="772.7" r="3.0"/><circle cx="184.0" cy="762.0" r="3.0"/></g>
<g fill="#7FB0E2" fill-opacity="0.5" stroke="#7FB0E2" stroke-opacity="0.5" stroke-width="1.4"><circle cx="100.4" cy="814.7" r="3.0"/><circle cx="99.0" cy="819.1" r="3.0"/><circle cx="99.7" cy="823.5" r="3.0"/><circle cx="101.1" cy="827.8" r="3.0"/><circle cx="102.6" cy="831.5" r="3.0"/><circle cx="102.6" cy="816.9" r="3.0"/><circle cx="104.1" cy="820.5" r="3.0"/><circle cx="105.5" cy="824.2" r="3.0"/><circle cx="106.2" cy="827.8" r="3.0"/><circle cx="108.4" cy="831.5" r="3.0"/><circle cx="107.0" cy="818.4" r="3.0"/><circle cx="109.2" cy="813.2" r="3.0"/><circle cx="112.1" cy="813.2" r="3.0"/><circle cx="109.9" cy="820.5" r="3.0"/><circle cx="111.4" cy="830.0" r="3.0"/><circle cx="114.3" cy="814.0" r="3.0"/><circle cx="116.5" cy="819.1" r="3.0"/><circle cx="116.5" cy="827.8" r="3.0"/><circle cx="117.9" cy="830.8" r="3.0"/><circle cx="120.1" cy="828.6" r="3.0"/><circle cx="122.3" cy="818.1" r="3.0"/><circle cx="124.5" cy="817.6" r="3.0"/><circle cx="124.5" cy="828.3" r="3.0"/><circle cx="130.3" cy="832.2" r="3.0"/><circle cx="136.9" cy="815.4" r="3.0"/><circle cx="139.1" cy="829.3" r="3.0"/><circle cx="141.7" cy="818.4" r="3.0"/><circle cx="151.5" cy="823.9" r="3.0"/><circle cx="156.6" cy="816.2" r="3.0"/><circle cx="156.9" cy="819.1" r="3.0"/><circle cx="162.7" cy="816.9" r="3.0"/><circle cx="163.2" cy="822.0" r="3.0"/><circle cx="168.0" cy="825.7" r="3.0"/><circle cx="169.0" cy="829.7" r="3.0"/><circle cx="172.4" cy="831.5" r="3.0"/><circle cx="188.4" cy="821.3" r="3.0"/><circle cx="188.1" cy="824.9" r="3.0"/><circle cx="187.4" cy="832.2" r="3.0"/><circle cx="265.2" cy="818.1" r="3.0"/><circle cx="101.0" cy="825.0" r="3.0"/><circle cx="104.0" cy="828.0" r="3.0"/><circle cx="107.0" cy="822.0" r="3.0"/><circle cx="113.0" cy="829.0" r="3.0"/></g>
<line x1="518.90" y1="645.47" x2="549.10" y2="645.47" stroke="#2B2B2B" stroke-width="1.8"/><line x1="572.20" y1="645.47" x2="604.20" y2="645.47" stroke="#2B2B2B" stroke-width="1.8"/><rect x="549.10" y="623.36" width="23.10" height="44.21" fill="#fff" stroke="#2B2B2B" stroke-width="1.8"/><line x1="562.70" y1="623.36" x2="562.70" y2="667.58" stroke="#2B2B2B" stroke-width="3.6"/>
<line x1="427.00" y1="704.42" x2="506.30" y2="704.42" stroke="#2B2B2B" stroke-width="1.8"/><line x1="568.30" y1="704.42" x2="606.40" y2="704.42" stroke="#2B2B2B" stroke-width="1.8"/><rect x="506.30" y="682.32" width="62.00" height="44.21" fill="#fff" stroke="#2B2B2B" stroke-width="1.8"/><line x1="533.00" y1="682.32" x2="533.00" y2="726.53" stroke="#2B2B2B" stroke-width="3.6"/>
<line x1="411.00" y1="763.38" x2="475.90" y2="763.38" stroke="#2B2B2B" stroke-width="1.8"/><line x1="542.00" y1="763.38" x2="584.80" y2="763.38" stroke="#2B2B2B" stroke-width="1.8"/><rect x="475.90" y="741.27" width="66.10" height="44.21" fill="#fff" stroke="#2B2B2B" stroke-width="1.8"/><line x1="504.50" y1="741.27" x2="504.50" y2="785.48" stroke="#2B2B2B" stroke-width="3.6"/>
<line x1="404.40" y1="822.33" x2="448.60" y2="822.33" stroke="#2B2B2B" stroke-width="1.8"/><line x1="511.80" y1="822.33" x2="590.70" y2="822.33" stroke="#2B2B2B" stroke-width="1.8"/><rect x="448.60" y="800.22" width="63.20" height="44.21" fill="#fff" stroke="#2B2B2B" stroke-width="1.8"/><line x1="480.30" y1="800.22" x2="480.30" y2="844.44" stroke="#2B2B2B" stroke-width="3.6"/>
<g fill="#E47F63" fill-opacity="0.5" stroke="#E47F63" stroke-opacity="0.5" stroke-width="1.4"><circle cx="506.7" cy="651.4" r="3.0"/><circle cx="518.4" cy="644.8" r="3.0"/><circle cx="534.7" cy="639.9" r="3.0"/><circle cx="530.1" cy="650.9" r="3.0"/><circle cx="532.4" cy="650.9" r="3.0"/><circle cx="538.2" cy="649.2" r="3.0"/><circle cx="544.1" cy="642.7" r="3.0"/><circle cx="545.2" cy="646.5" r="3.0"/><circle cx="552.2" cy="642.7" r="3.0"/><circle cx="552.6" cy="646.5" r="3.0"/><circle cx="548.2" cy="655.0" r="3.0"/><circle cx="553.4" cy="652.7" r="3.0"/><circle cx="555.7" cy="654.4" r="3.0"/><circle cx="557.8" cy="650.9" r="3.0"/><circle cx="559.6" cy="648.3" r="3.0"/><circle cx="563.1" cy="641.3" r="3.0"/><circle cx="564.8" cy="643.0" r="3.0"/><circle cx="563.1" cy="651.8" r="3.0"/><circle cx="566.6" cy="651.8" r="3.0"/><circle cx="569.2" cy="648.3" r="3.0"/><circle cx="570.1" cy="650.9" r="3.0"/><circle cx="571.0" cy="639.5" r="3.0"/><circle cx="571.8" cy="643.0" r="3.0"/><circle cx="576.2" cy="637.4" r="3.0"/><circle cx="578.8" cy="644.4" r="3.0"/><circle cx="580.6" cy="648.3" r="3.0"/><circle cx="578.8" cy="653.9" r="3.0"/><circle cx="585.5" cy="644.8" r="3.0"/><circle cx="591.1" cy="643.0" r="3.0"/><circle cx="604.2" cy="642.2" r="3.0"/><circle cx="606.5" cy="636.4" r="3.0"/><circle cx="604.2" cy="653.9" r="3.0"/><circle cx="489.7" cy="652.3" r="3.0"/><circle cx="547.0" cy="649.0" r="3.0"/><circle cx="554.0" cy="648.0" r="3.0"/><circle cx="558.0" cy="653.0" r="3.0"/><circle cx="560.0" cy="642.0" r="3.0"/><circle cx="561.0" cy="647.0" r="3.0"/><circle cx="565.0" cy="649.0" r="3.0"/><circle cx="567.0" cy="644.0" r="3.0"/><circle cx="568.0" cy="654.0" r="3.0"/><circle cx="573.0" cy="646.0" r="3.0"/><circle cx="551.0" cy="651.0" r="3.0"/></g>
<g fill="#A3B419" fill-opacity="0.5" stroke="#A3B419" stroke-opacity="0.5" stroke-width="1.4"><circle cx="426.7" cy="704.0" r="3.0"/><circle cx="439.9" cy="697.4" r="3.0"/><circle cx="461.3" cy="696.0" r="3.0"/><circle cx="463.8" cy="698.2" r="3.0"/><circle cx="464.3" cy="698.6" r="3.0"/><circle cx="473.8" cy="697.0" r="3.0"/><circle cx="475.2" cy="704.4" r="3.0"/><circle cx="475.5" cy="709.8" r="3.0"/><circle cx="485.4" cy="704.0" r="3.0"/><circle cx="488.4" cy="702.5" r="3.0"/><circle cx="489.8" cy="696.0" r="3.0"/><circle cx="501.2" cy="712.0" r="3.0"/><circle cx="505.5" cy="694.5" r="3.0"/><circle cx="507.7" cy="699.2" r="3.0"/><circle cx="515.8" cy="697.4" r="3.0"/><circle cx="518.2" cy="694.5" r="3.0"/><circle cx="514.7" cy="708.0" r="3.0"/><circle cx="513.3" cy="713.8" r="3.0"/><circle cx="524.5" cy="710.9" r="3.0"/><circle cx="528.2" cy="710.9" r="3.0"/><circle cx="531.8" cy="697.4" r="3.0"/><circle cx="532.3" cy="701.1" r="3.0"/><circle cx="532.3" cy="704.7" r="3.0"/><circle cx="534.7" cy="711.3" r="3.0"/><circle cx="545.0" cy="694.8" r="3.0"/><circle cx="544.2" cy="700.6" r="3.0"/><circle cx="547.4" cy="703.3" r="3.0"/><circle cx="542.0" cy="707.4" r="3.0"/><circle cx="542.5" cy="709.8" r="3.0"/><circle cx="550.8" cy="708.4" r="3.0"/><circle cx="551.8" cy="709.4" r="3.0"/><circle cx="553.3" cy="697.1" r="3.0"/><circle cx="561.5" cy="706.9" r="3.0"/><circle cx="567.6" cy="712.8" r="3.0"/><circle cx="572.7" cy="697.4" r="3.0"/><circle cx="574.9" cy="704.0" r="3.0"/><circle cx="576.1" cy="712.0" r="3.0"/><circle cx="578.5" cy="694.5" r="3.0"/><circle cx="569.1" cy="706.9" r="3.0"/><circle cx="580.4" cy="694.2" r="3.0"/><circle cx="581.2" cy="699.6" r="3.0"/><circle cx="578.2" cy="698.9" r="3.0"/><circle cx="577.2" cy="705.5" r="3.0"/><circle cx="577.5" cy="708.4" r="3.0"/><circle cx="583.6" cy="714.2" r="3.0"/><circle cx="591.8" cy="711.3" r="3.0"/><circle cx="606.7" cy="709.8" r="3.0"/><circle cx="606.7" cy="713.2" r="3.0"/><circle cx="532.3" cy="708.0" r="3.0"/><circle cx="487.0" cy="700.0" r="3.0"/><circle cx="545.0" cy="697.0" r="3.0"/></g>
<g fill="#55C795" fill-opacity="0.5" stroke="#55C795" stroke-opacity="0.5" stroke-width="1.4"><circle cx="411.0" cy="762.0" r="3.0"/><circle cx="427.5" cy="758.4" r="3.0"/><circle cx="431.7" cy="770.3" r="3.0"/><circle cx="433.6" cy="772.2" r="3.0"/><circle cx="443.4" cy="760.5" r="3.0"/><circle cx="447.5" cy="754.7" r="3.0"/><circle cx="455.5" cy="755.1" r="3.0"/><circle cx="457.7" cy="761.3" r="3.0"/><circle cx="463.5" cy="766.0" r="3.0"/><circle cx="473.8" cy="762.0" r="3.0"/><circle cx="476.4" cy="755.1" r="3.0"/><circle cx="473.8" cy="767.1" r="3.0"/><circle cx="478.1" cy="766.4" r="3.0"/><circle cx="484.3" cy="769.3" r="3.0"/><circle cx="485.4" cy="762.0" r="3.0"/><circle cx="486.6" cy="760.5" r="3.0"/><circle cx="484.7" cy="764.9" r="3.0"/><circle cx="491.3" cy="761.0" r="3.0"/><circle cx="486.6" cy="762.4" r="3.0"/><circle cx="493.4" cy="759.8" r="3.0"/><circle cx="493.9" cy="762.4" r="3.0"/><circle cx="496.8" cy="754.7" r="3.0"/><circle cx="501.6" cy="759.1" r="3.0"/><circle cx="503.4" cy="761.3" r="3.0"/><circle cx="510.7" cy="760.1" r="3.0"/><circle cx="513.3" cy="763.5" r="3.0"/><circle cx="513.9" cy="767.8" r="3.0"/><circle cx="517.2" cy="763.5" r="3.0"/><circle cx="516.2" cy="754.0" r="3.0"/><circle cx="523.5" cy="764.2" r="3.0"/><circle cx="527.0" cy="768.3" r="3.0"/><circle cx="532.3" cy="769.7" r="3.0"/><circle cx="532.8" cy="772.2" r="3.0"/><circle cx="538.4" cy="764.9" r="3.0"/><circle cx="541.3" cy="759.1" r="3.0"/><circle cx="543.9" cy="754.7" r="3.0"/><circle cx="545.4" cy="769.7" r="3.0"/><circle cx="542.0" cy="772.7" r="3.0"/><circle cx="548.6" cy="761.3" r="3.0"/><circle cx="552.3" cy="764.9" r="3.0"/><circle cx="557.4" cy="754.0" r="3.0"/><circle cx="562.5" cy="755.7" r="3.0"/><circle cx="567.3" cy="767.8" r="3.0"/><circle cx="577.8" cy="761.0" r="3.0"/><circle cx="579.3" cy="772.7" r="3.0"/><circle cx="586.0" cy="759.5" r="3.0"/><circle cx="583.1" cy="762.4" r="3.0"/><circle cx="581.9" cy="772.7" r="3.0"/><circle cx="488.0" cy="764.0" r="3.0"/><circle cx="500.0" cy="762.0" r="3.0"/><circle cx="540.0" cy="762.0" r="3.0"/></g>
<g fill="#7FB0E2" fill-opacity="0.5" stroke="#7FB0E2" stroke-opacity="0.5" stroke-width="1.4"><circle cx="404.0" cy="823.5" r="3.0"/><circle cx="409.2" cy="819.1" r="3.0"/><circle cx="410.2" cy="817.2" r="3.0"/><circle cx="421.9" cy="818.4" r="3.0"/><circle cx="422.7" cy="820.5" r="3.0"/><circle cx="427.8" cy="824.2" r="3.0"/><circle cx="430.7" cy="831.2" r="3.0"/><circle cx="435.8" cy="822.0" r="3.0"/><circle cx="439.4" cy="817.6" r="3.0"/><circle cx="441.6" cy="818.1" r="3.0"/><circle cx="445.3" cy="828.3" r="3.0"/><circle cx="444.8" cy="832.2" r="3.0"/><circle cx="447.5" cy="825.7" r="3.0"/><circle cx="448.9" cy="817.6" r="3.0"/><circle cx="449.7" cy="821.0" r="3.0"/><circle cx="449.2" cy="824.2" r="3.0"/><circle cx="454.5" cy="825.4" r="3.0"/><circle cx="460.6" cy="828.3" r="3.0"/><circle cx="462.8" cy="828.6" r="3.0"/><circle cx="459.4" cy="830.8" r="3.0"/><circle cx="465.0" cy="814.7" r="3.0"/><circle cx="470.8" cy="815.4" r="3.0"/><circle cx="465.7" cy="819.1" r="3.0"/><circle cx="473.8" cy="831.2" r="3.0"/><circle cx="480.3" cy="818.4" r="3.0"/><circle cx="480.8" cy="823.5" r="3.0"/><circle cx="483.7" cy="827.8" r="3.0"/><circle cx="481.1" cy="831.2" r="3.0"/><circle cx="491.3" cy="825.7" r="3.0"/><circle cx="496.8" cy="819.1" r="3.0"/><circle cx="496.1" cy="818.4" r="3.0"/><circle cx="501.2" cy="812.8" r="3.0"/><circle cx="504.5" cy="813.2" r="3.0"/><circle cx="493.9" cy="828.3" r="3.0"/><circle cx="499.3" cy="830.3" r="3.0"/><circle cx="507.0" cy="823.5" r="3.0"/><circle cx="508.0" cy="830.3" r="3.0"/><circle cx="513.3" cy="821.3" r="3.0"/><circle cx="513.9" cy="822.0" r="3.0"/><circle cx="515.3" cy="829.7" r="3.0"/><circle cx="529.6" cy="829.7" r="3.0"/><circle cx="532.6" cy="816.9" r="3.0"/><circle cx="537.7" cy="816.2" r="3.0"/><circle cx="542.5" cy="818.1" r="3.0"/><circle cx="543.5" cy="825.4" r="3.0"/><circle cx="553.3" cy="829.3" r="3.0"/><circle cx="566.4" cy="832.2" r="3.0"/><circle cx="574.2" cy="831.5" r="3.0"/><circle cx="582.2" cy="818.1" r="3.0"/><circle cx="591.4" cy="821.6" r="3.0"/></g>
<g opacity="0.999">
<text x="322.91" y="61.17" font-size="14.37" fill="#4D4D4D">n=23</text><text x="322.91" y="120.12" font-size="14.37" fill="#4D4D4D">n=30</text><text x="322.91" y="179.08" font-size="14.37" fill="#4D4D4D">n=34</text><text x="322.91" y="238.03" font-size="14.37" fill="#4D4D4D">n=35</text><text x="626.81" y="61.17" font-size="14.37" fill="#4D4D4D">n=23</text><text x="626.81" y="120.12" font-size="14.37" fill="#4D4D4D">n=35</text><text x="626.81" y="179.08" font-size="14.37" fill="#4D4D4D">n=39</text><text x="626.81" y="238.03" font-size="14.37" fill="#4D4D4D">n=45</text><text x="322.91" y="355.97" font-size="14.37" fill="#4D4D4D">n=35</text><text x="322.91" y="414.92" font-size="14.37" fill="#4D4D4D">n=32</text><text x="322.91" y="473.88" font-size="14.37" fill="#4D4D4D">n=30</text><text x="322.91" y="532.83" font-size="14.37" fill="#4D4D4D">n=30</text><text x="626.81" y="355.97" font-size="14.37" fill="#4D4D4D">n=37</text><text x="626.81" y="414.92" font-size="14.37" fill="#4D4D4D">n=38</text><text x="626.81" y="473.88" font-size="14.37" fill="#4D4D4D">n=41</text><text x="626.81" y="532.83" font-size="14.37" fill="#4D4D4D">n=43</text><text x="322.91" y="650.77" font-size="14.37" fill="#4D4D4D">n=45</text><text x="322.91" y="709.72" font-size="14.37" fill="#4D4D4D">n=51</text><text x="322.91" y="768.68" font-size="14.37" fill="#4D4D4D">n=51</text><text x="322.91" y="827.63" font-size="14.37" fill="#4D4D4D">n=50</text><text x="626.81" y="650.77" font-size="14.37" fill="#4D4D4D">n=45</text><text x="626.81" y="709.72" font-size="14.37" fill="#4D4D4D">n=51</text><text x="626.81" y="768.68" font-size="14.37" fill="#4D4D4D">n=51</text><text x="626.81" y="827.63" font-size="14.37" fill="#4D4D4D">n=50</text>
<text x="79.6" y="53.97" font-size="14.37" fill="#4D4D4D" text-anchor="end">4 (higher</text><text x="79.6" y="69.47" font-size="14.37" fill="#4D4D4D" text-anchor="end">income)</text><text x="79.6" y="120.12" font-size="14.37" fill="#4D4D4D" text-anchor="end">3</text><text x="79.6" y="179.08" font-size="14.37" fill="#4D4D4D" text-anchor="end">2</text><text x="79.6" y="230.83" font-size="14.37" fill="#4D4D4D" text-anchor="end">1 (lower</text><text x="79.6" y="246.33" font-size="14.37" fill="#4D4D4D" text-anchor="end">income)</text><text x="79.6" y="348.77" font-size="14.37" fill="#4D4D4D" text-anchor="end">4 (higher</text><text x="79.6" y="364.27" font-size="14.37" fill="#4D4D4D" text-anchor="end">income)</text><text x="79.6" y="414.92" font-size="14.37" fill="#4D4D4D" text-anchor="end">3</text><text x="79.6" y="473.88" font-size="14.37" fill="#4D4D4D" text-anchor="end">2</text><text x="79.6" y="525.63" font-size="14.37" fill="#4D4D4D" text-anchor="end">1 (lower</text><text x="79.6" y="541.13" font-size="14.37" fill="#4D4D4D" text-anchor="end">income)</text><text x="79.6" y="643.57" font-size="14.37" fill="#4D4D4D" text-anchor="end">4 (higher</text><text x="79.6" y="659.07" font-size="14.37" fill="#4D4D4D" text-anchor="end">income)</text><text x="79.6" y="709.72" font-size="14.37" fill="#4D4D4D" text-anchor="end">3</text><text x="79.6" y="768.68" font-size="14.37" fill="#4D4D4D" text-anchor="end">2</text><text x="79.6" y="820.43" font-size="14.37" fill="#4D4D4D" text-anchor="end">1 (lower</text><text x="79.6" y="835.93" font-size="14.37" fill="#4D4D4D" text-anchor="end">income)</text>
<text x="99.50" y="876.2" font-size="14.37" fill="#4D4D4D" text-anchor="middle">0</text><text x="140.12" y="876.2" font-size="14.37" fill="#4D4D4D" text-anchor="middle">20</text><text x="180.74" y="876.2" font-size="14.37" fill="#4D4D4D" text-anchor="middle">40</text><text x="221.36" y="876.2" font-size="14.37" fill="#4D4D4D" text-anchor="middle">60</text><text x="261.98" y="876.2" font-size="14.37" fill="#4D4D4D" text-anchor="middle">80</text><text x="302.60" y="876.2" font-size="14.37" fill="#4D4D4D" text-anchor="middle">100</text><text x="403.40" y="876.2" font-size="14.37" fill="#4D4D4D" text-anchor="middle">0</text><text x="444.02" y="876.2" font-size="14.37" fill="#4D4D4D" text-anchor="middle">20</text><text x="484.64" y="876.2" font-size="14.37" fill="#4D4D4D" text-anchor="middle">40</text><text x="525.26" y="876.2" font-size="14.37" fill="#4D4D4D" text-anchor="middle">60</text><text x="565.88" y="876.2" font-size="14.37" fill="#4D4D4D" text-anchor="middle">80</text><text x="606.50" y="876.2" font-size="14.37" fill="#4D4D4D" text-anchor="middle">100</text>
<text x="216.28" y="12.4" font-size="14.37" fill="#1A1A1A" text-anchor="middle">December 2021</text>
<text x="520.18" y="12.4" font-size="14.37" fill="#1A1A1A" text-anchor="middle">December 2023</text>
<text transform="translate(672.7,144.30) rotate(90)" x="0" y="0" font-size="14.37" fill="#1A1A1A" text-anchor="middle">HCWs</text>
<text transform="translate(672.7,439.10) rotate(90)" x="0" y="0" font-size="14.37" fill="#1A1A1A" text-anchor="middle">Older adults</text>
<text transform="translate(672.7,733.90) rotate(90)" x="0" y="0" font-size="14.37" fill="#1A1A1A" text-anchor="middle">Whole population</text>
<text x="368.3" y="897.2" font-size="17.96" fill="#000" text-anchor="middle">Primary series coverage (%)</text>
<text transform="translate(15.2,440.2) rotate(-90)" x="0" y="0" font-size="17.96" fill="#000" text-anchor="middle">GNI quartile</text>
</g>
</svg></body></html>
